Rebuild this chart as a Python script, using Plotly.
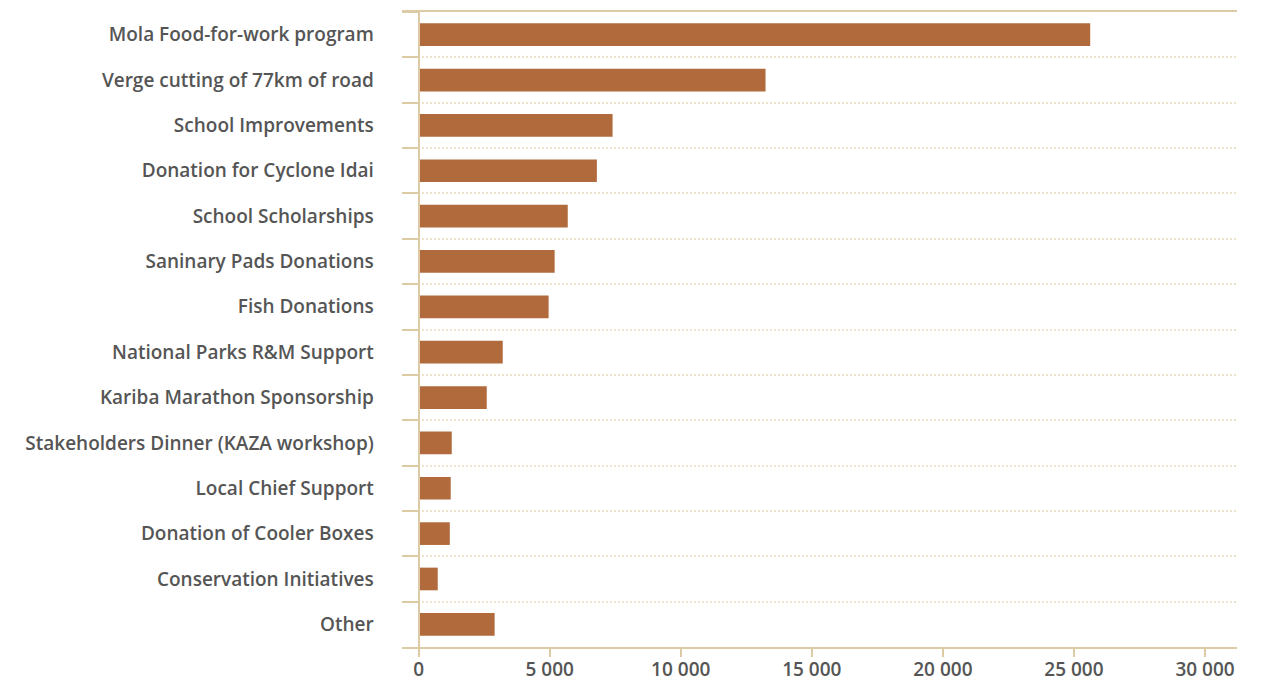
import plotly.graph_objects as go

categories = [
    "Mola Food-for-work program",
    "Verge cutting of 77km of road",
    "School Improvements",
    "Donation for Cyclone Idai",
    "School Scholarships",
    "Saninary Pads Donations",
    "Fish Donations",
    "National Parks R&M Support",
    "Kariba Marathon Sponsorship",
    "Stakeholders Dinner (KAZA workshop)",
    "Local Chief Support",
    "Donation of Cooler Boxes",
    "Conservation Initiatives",
    "Other",
]
values = [25620, 13235, 7400, 6800, 5690, 5190, 4960, 3210, 2600, 1265, 1225, 1190, 730, 2900]

x_tickvals = [0, 5000, 10000, 15000, 20000, 25000, 30000]

BAR = "#B06A3B"
TAN = "#DCCBA4"
GRID = "#EEE4CE"
TEXT = "#555555"
FONT = "Open Sans"

xmin, xmax = -633, 31220
zero_pos = (0 - xmin) / (xmax - xmin)

fig = go.Figure()
fig.add_trace(go.Bar(
    y=categories, x=values, orientation="h",
    marker=dict(color=BAR, line=dict(width=0)),
    width=0.5,
))

fig.update_layout(
    template="none",
    width=1268, height=681,
    margin=dict(l=402, r=31, t=12, b=34, pad=0),
    paper_bgcolor="white", plot_bgcolor="white",
    showlegend=False,
    separators=". ",
    font=dict(family=FONT, size=19, color=TEXT, weight=600),
    xaxis=dict(
        range=[xmin, xmax], domain=[0, 1],
        tickvals=x_tickvals, tickformat=",d",
        showgrid=False, zeroline=False,
        showline=True, linecolor=TAN, linewidth=2, mirror=True,
        ticks="outside", ticklen=8, tickwidth=2, tickcolor=TAN,
        ticklabelstandoff=-4,
        tickfont=dict(family=FONT, size=19, color=TEXT, weight=600),
        automargin=False,
    ),
    yaxis=dict(
        categoryorder="array", categoryarray=categories,
        range=[len(categories) - 0.5, -0.5],
        anchor="free", position=zero_pos, side="left",
        showline=True, linecolor=TAN, linewidth=2,
        tickson="boundaries",
        ticks="outside", ticklen=16, tickwidth=2, tickcolor=TAN,
        showgrid=True, gridcolor=GRID, gridwidth=2, griddash="2px,2px",
        zeroline=False,
        ticklabelstandoff=40,
        tickfont=dict(family=FONT, size=19, color=TEXT, weight=600),
        automargin=False,
    ),
    bargap=0.5,
)

fig.write_html(
    "out.html",
    config={"displayModeBar": False},
    post_script="document.body.style.margin='0';document.body.style.overflow='hidden';",
)
